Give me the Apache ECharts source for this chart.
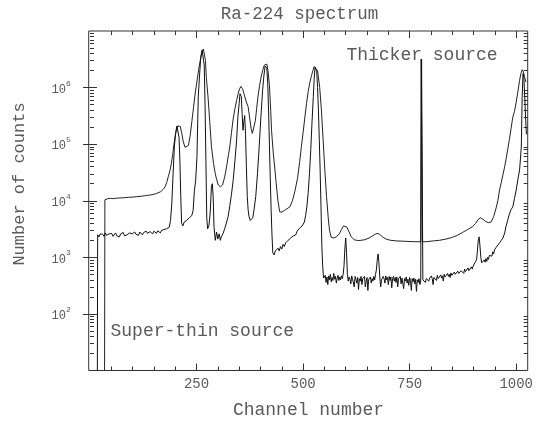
<!DOCTYPE html>
<html><head><meta charset="utf-8">
<script src="https://cdn.jsdelivr.net/npm/echarts@6/dist/echarts.min.js"></script>
<style>html,body{margin:0;padding:0;background:#fff}#c{width:537px;height:423px}</style>
</head><body><div id="c"></div>
<script>
// ---- data (channel, counts) ----
const thickerSource = [
[34,1],[35,10400],[38,10600],[42,10900],[48,11000],[55,10900],[62,11100],[70,11200],[80,11300],[90,11500],[100,11600],[110,11800],[120,12000],[130,12300],[140,12600],[150,13000],[156,13400],[166,14500],[172,16000],[176,17500],[180,21000],[184,27000],[188,35000],[191,46000],[194,65000],[197,100000],[200,140000],[203,180000],[206,210000],[209,220000],[212,205000],[215,160000],[219,110000],[223,88000],[227,83000],[231,95000],[235,140000],[239,250000],[243,450000],[247,800000],[251,1300000],[255,2100000],[259,3100000],[263,4200000],[266,4800000],[269,4500000],[271,3000000],[273,1500000],[277,680000],[281,250000],[285,90000],[290,45000],[294,30000],[297,24000],[301,19000],[306,17600],[311,19000],[316,26000],[321,42000],[325,65000],[328,89000],[332,160000],[336,280000],[340,420000],[344,590000],[348,800000],[351,950000],[354,1050000],[358,950000],[362,750000],[366,580000],[371,460000],[375,280000],[378,190000],[381,155000],[384,165000],[388,260000],[391,420000],[394,680000],[398,1100000],[402,1600000],[406,2100000],[409,2500000],[412,2700000],[415,2600000],[418,1900000],[421,1100000],[424,400000],[426,176000],[430,70000],[434,35000],[437,20000],[441,10000],[445,6400],[450,6300],[456,6700],[462,7200],[469,7800],[475,10000],[481,15000],[487,25000],[492,49000],[496,90000],[500,160000],[504,290000],[508,520000],[512,850000],[516,1250000],[520,1650000],[523,2000000],[526,2350000],[530,2470000],[534,2000000],[539,1000000],[543,400000],[547,120000],[551,35000],[555,12000],[559,5000],[562,3000],[566,2250],[572,2200],[578,2300],[585,2600],[590,3100],[595,3600],[599,3700],[603,3400],[608,2800],[613,2300],[620,2050],[628,1980],[636,2000],[645,2050],[655,2200],[663,2400],[670,2580],[676,2650],[682,2450],[688,2250],[695,2100],[705,2000],[720,1950],[740,1920],[760,1890],[776,1880],[777,3200000],[779,3200000],[780,1880],[790,1890],[805,1950],[820,2000],[835,2100],[850,2250],[862,2450],[874,2750],[886,3100],[898,3500],[905,4000],[910,4600],[916,5000],[922,4700],[928,4300],[935,4100],[941,4200],[947,5200],[953,7500],[957,10000],[961,15500],[965,21000],[969,29000],[973,40000],[976,53000],[980,80000],[984,120000],[988,190000],[992,300000],[996,380000],[1000,550000],[1004,850000],[1008,1350000],[1011,1750000],[1014,2070000],[1017,1900000],[1020,1500000],[1023,1250000]
];
const superThinSource = [
[17,1],[18,2500],[21,2300],[24,2600],[27,2400],[30,2550],[33,2350],[36,2700],[39,2450],[42,2300],[45,2600],[48,2400],[51,2650],[54,2350],[57,2500],[60,2700],[63,2400],[66,2550],[69,2300],[72,2600],[75,2450],[78,2750],[81,2400],[84,2600],[87,2500],[90,2350],[93,2700],[96,2500],[99,2600],[102,2400],[105,2800],[108,2550],[111,2650],[114,2450],[117,2800],[120,2600],[123,2500],[126,2750],[129,2600],[132,2900],[135,2650],[138,2550],[141,2850],[144,2700],[147,2600],[150,2900],[153,2750],[156,2650],[159,2950],[162,2800],[165,2700],[168,3000],[171,2850],[174,3100],[177,2950],[180,3200],[183,3100],[186,3400],[189,4500],[192,9000],[195,30000],[198,90000],[201,160000],[204,210000],[207,200000],[209,130000],[211,50000],[213,12000],[215,4000],[218,3600],[221,4200],[224,3900],[227,4500],[230,4300],[233,5000],[236,4700],[239,5500],[242,6700],[245,15000],[248,23000],[251,60000],[254,680000],[257,1600000],[260,3500000],[263,4600000],[266,4300000],[268,2500000],[270,500000],[272,50000],[274,5000],[276,3200],[279,3600],[282,6000],[285,18000],[287,20000],[289,12000],[291,3500],[294,2000],[297,2800],[300,2100],[303,2600],[306,2000],[308,2300],[312,2600],[316,3200],[320,4000],[324,5200],[328,8000],[332,13000],[336,23000],[340,50000],[344,117000],[347,300000],[350,520000],[352,780000],[355,700000],[357,350000],[359,176000],[361,250000],[363,320000],[365,150000],[367,40000],[369,12000],[371,7000],[373,5300],[376,4500],[379,4300],[382,5000],[385,7000],[389,12000],[393,30000],[397,90000],[401,300000],[405,900000],[408,1600000],[411,2400000],[413,2600000],[415,2200000],[417,1200000],[419,400000],[421,100000],[423,25000],[425,7000],[427,2500],[429,1200],[432,1100],[435,1300],[438,1200],[441,1450],[444,1300],[447,1550],[450,1400],[453,1700],[456,1550],[459,1800],[462,1700],[465,2000],[468,1850],[471,2200],[474,2100],[477,2400],[480,2600],[483,2500],[486,2900],[489,3000],[492,3300],[495,3200],[498,3600],[500,3500],[503,4200],[506,5500],[509,8000],[512,14000],[515,30000],[518,80000],[521,250000],[524,700000],[526,1400000],[528,2300000],[530,2400000],[532,1900000],[534,1000000],[536,400000],[538,120000],[540,35000],[542,8000],[544,1600],[546,700],[548,430],
[550,420],[552,480],[554,360],[556,450],[558,330],[560,470],[562,400],[564,500],[566,370],[568,440],[570,390],[572,520],[574,410],[576,460],[578,350],[580,430],[582,480],[584,390],[586,450],[588,400],[590,470],[592,420],[594,500],[596,700],[598,1400],[600,2200],[602,1200],[604,500],[606,380],[608,450],[610,410],[612,340],[614,470],[616,420],[618,390],[620,300],[622,460],[624,410],[626,350],[628,440],[630,270],[632,420],[634,380],[636,460],[638,330],[640,420],[642,400],[644,460],[646,300],[648,380],[650,440],[652,260],[654,410],[656,390],[658,450],[660,350],[662,420],[664,380],[666,460],[668,400],[670,500],[672,600],[674,900],[676,1150],[678,800],[680,450],[682,300],[684,400],[686,380],[688,460],[690,420],[692,350],[694,470],[696,400],[698,440],[700,330],[702,460],[704,390],[706,450],[708,290],[710,420],[712,460],[714,380],[716,440],[718,360],[720,450],[722,300],[724,420],[726,390],[728,460],[730,340],[732,430],[734,400],[736,280],[738,420],[740,380],[742,450],[744,350],[746,410],[748,320],[750,440],[752,390],[754,260],[756,420],[758,370],[760,430],[762,340],[764,410],[766,250],[768,400],[770,360],[772,420],[774,330],[776,380],[778,3200000],[780,3200000],[781,400],[783,380],[785,430],[787,360],[789,420],[791,390],[793,450],[795,380],[797,430],[799,400],[801,470],[803,420],[805,330],[807,440],[809,410],[811,460],[813,390],[815,480],[817,420],[819,450],[821,400],[823,490],[825,430],[827,470],[829,380],[831,500],[833,450],[835,480],[837,420],[839,520],[841,460],[843,500],[845,440],[847,530],[849,480],[851,510],[853,450],[855,550],[857,500],[859,530],[861,470],[863,570],[865,520],[867,550],[869,500],[871,580],[873,540],[875,600],[877,520],[879,620],[881,560],[883,600],[885,540],[887,650],[889,580],[891,620],[893,560],[895,680],[897,620],[899,700],[901,650],[903,800],[905,750],[907,900],[909,1300],[911,2000],[913,2300],[915,1600],[917,1000],[919,800],[921,850],[923,780],[925,900],[927,820],[929,950],[931,850],[933,1000],[935,920],[937,1080],[939,1000],[941,1150],[943,1050],[945,1250],[947,1150],[949,1350],[951,1250],[953,1500],[955,1400],[957,1650],[959,1550],[961,1800],[963,1750],[965,2000],[967,1950],[969,2200],[971,2300],[973,2700],[976,3500],[980,4500],[984,5800],[988,7000],[992,7800],[996,11000],[1000,15500],[1004,24000],[1008,35000],[1012,89000],[1014,670000],[1016,1760000],[1018,1500000],[1020,700000],[1022,300000],[1024,150000]
];
const xMajorTicks = [250, 500, 750, 1000];
const xMinorTicks = [50,100,150,200,300,350,400,450,550,600,650,700,800,850,900,950];
const yDecadeExponents = [2, 3, 4, 5, 6];
const yMinorMultipliers = [2,3,4,5,6,7,8,9];

const yMinorTicks = [];
for (let n = 1; n <= 6; n++) yMinorMultipliers.forEach(k => yMinorTicks.push(n + Math.log10(k)));

const FONT = 'Liberation Mono';
const TXT = '#5a5a5a';
const AX = '#333';
const XMIN = -3, XMAX = 1027;

function xAx(pos, ticks, len, labels) {
  return {
    type: 'value', min: XMIN, max: XMAX, position: pos, gridIndex: 0,
    axisLine: {show: false}, splitLine: {show: false},
    axisTick: {show: true, inside: true, length: len, customValues: ticks, lineStyle: {color: AX, width: 1}},
    axisLabel: labels ? {show: true, customValues: xMajorTicks, margin: 7, fontFamily: FONT, fontSize: 14, color: TXT,
      formatter: v => String(v)} : {show: false}
  };
}
function yAx(pos, ticks, len, labels) {
  return {
    type: 'value', min: 1, max: 7, position: pos, gridIndex: 0,
    axisLine: {show: false}, splitLine: {show: false},
    axisTick: {show: true, inside: true, length: len, customValues: ticks, lineStyle: {color: AX, width: 1}},
    axisLabel: labels ? {
      show: true, customValues: yDecadeExponents, margin: 18,
      formatter: v => '{b|10}{s|' + v + '}',
      rich: {
        b: {fontFamily: FONT, fontSize: 12, color: TXT, lineHeight: 16, verticalAlign: 'bottom'},
        s: {fontFamily: FONT, fontSize: 8, color: TXT, lineHeight: 16, verticalAlign: 'top'}
      }
    } : {show: false}
  };
}

const chart = echarts.init(document.getElementById('c'), null, {renderer: 'canvas'});
chart.setOption({
  animation: false,
  backgroundColor: '#fff',
  grid: {left: 88.7, top: 31, width: 439, height: 339.5, show: true, borderColor: AX, borderWidth: 1, backgroundColor: 'transparent'},
  xAxis: [
    xAx('bottom', xMajorTicks, 7, true),
    xAx('bottom', xMinorTicks, 4, false),
    xAx('top', xMajorTicks, 7, false),
    xAx('top', xMinorTicks, 4, false)
  ],
  yAxis: [
    {type: 'log', min: 10, max: 1e7, logBase: 10, show: false, gridIndex: 0},
    yAx('left', yDecadeExponents, 7, true),
    yAx('left', yMinorTicks, 4, false),
    yAx('right', yDecadeExponents, 7, false),
    yAx('right', yMinorTicks, 4, false)
  ],
  series: [
    {type: 'line', name: 'Thicker source', xAxisIndex: 0, yAxisIndex: 0, data: thickerSource, showSymbol: false, symbol: 'none', clip: true,
     lineStyle: {color: '#222', width: 1}},
    {type: 'line', name: 'Super-thin source', xAxisIndex: 0, yAxisIndex: 0, data: superThinSource, showSymbol: false, symbol: 'none', clip: true,
     lineStyle: {color: '#111', width: 1}}
  ],
  graphic: [
    {type: 'text', x: 299.5, y: 14.5, style: {text: 'Ra-224 spectrum', fontFamily: FONT, fontSize: 17.5, fill: TXT, align: 'center', verticalAlign: 'middle'}},
    {type: 'text', x: 422, y: 55, style: {text: 'Thicker source', fontFamily: FONT, fontSize: 18, fill: TXT, align: 'center', verticalAlign: 'middle'}},
    {type: 'text', x: 110.5, y: 331, style: {text: 'Super-thin source', fontFamily: FONT, fontSize: 18, fill: TXT, align: 'left', verticalAlign: 'middle'}},
    {type: 'text', x: 308.5, y: 410, style: {text: 'Channel number', fontFamily: FONT, fontSize: 18, fill: TXT, align: 'center', verticalAlign: 'middle'}},
    {type: 'text', x: 19, y: 184, rotation: Math.PI / 2, style: {text: 'Number of counts', fontFamily: FONT, fontSize: 17, fill: TXT, align: 'center', verticalAlign: 'middle'}}
  ]
});
</script>
</body></html>
